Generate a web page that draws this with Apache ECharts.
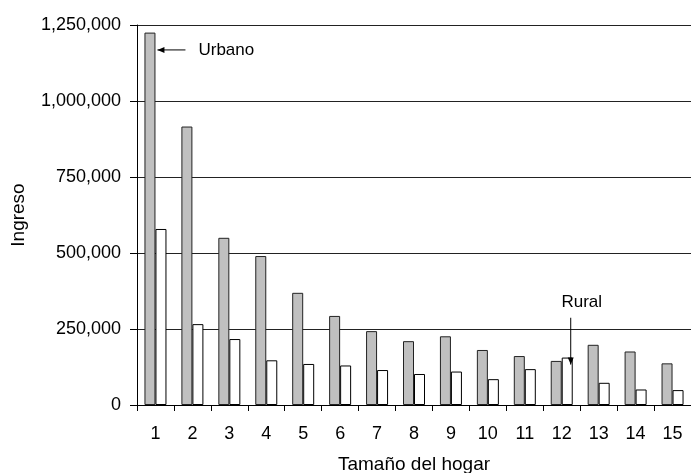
<!DOCTYPE html>
<html>
<head>
<meta charset="utf-8">
<script src="https://cdn.jsdelivr.net/npm/echarts@6/dist/echarts.min.js"></script>
<style>
html,body{margin:0;padding:0;background:#fff;}
#chart{width:691px;height:473px;}
</style>
</head>
<body>
<div id="chart"></div>
<script>
const categories = ['1','2','3','4','5','6','7','8','9','10','11','12','13','14','15'];
const urbano = [1225000, 916000, 550000, 490000, 369000, 293000, 243000, 210000, 226000, 181000, 161000, 145000, 198000, 176000, 137000];
const rural  = [579000, 266000, 217000, 147000, 135000, 130000, 115000, 102000, 110000, 85000, 118000, 156000, 73000, 51000, 49000];
const yTicks = [0, 250000, 500000, 750000, 1000000, 1250000];

const FONT = 'Arial, "Liberation Sans", sans-serif';
const chart = echarts.init(document.getElementById('chart'));

const option = {
  animation: false,
  backgroundColor: '#fff',
  grid: { left: 137, right: 0, top: 25, bottom: 68, containLabel: false, outerBoundsMode: 'none' },
  xAxis: {
    type: 'category',
    data: categories,
    name: 'Tamaño del hogar',
    nameLocation: 'middle',
    nameGap: 50,
    nameTextStyle: { color: '#000', fontSize: 19, fontFamily: FONT },
    axisLine: { lineStyle: { color: '#000', width: 1 } },
    axisTick: { show: true, inside: false, length: 6, alignWithLabel: false, lineStyle: { color: '#000' } },
    axisLabel: { color: '#000', fontSize: 18, fontFamily: FONT, margin: 20 },
    splitLine: { show: false }
  },
  yAxis: {
    type: 'value',
    min: yTicks[0],
    max: yTicks[yTicks.length - 1],
    interval: yTicks[1] - yTicks[0],
    name: 'Ingreso',
    nameLocation: 'middle',
    nameRotate: 90,
    nameGap: 109,
    nameTextStyle: { color: '#000', fontSize: 19, fontFamily: FONT },
    axisLine: { show: true, lineStyle: { color: '#000', width: 1 } },
    axisTick: { show: true, inside: false, length: 7, lineStyle: { color: '#000' } },
    axisLabel: {
      color: '#000', fontSize: 18, fontFamily: FONT, margin: 16,
      formatter: v => v.toLocaleString('en-US')
    },
    splitLine: { show: true, lineStyle: { color: '#222', width: 1 } }
  },
  series: [
    {
      name: 'Urbano', type: 'bar', data: urbano,
      barWidth: 11, barGap: '0%',
      itemStyle: { color: '#C0C0C0', borderColor: '#222', borderWidth: 1 }
    },
    {
      name: 'Rural', type: 'bar', data: rural,
      barWidth: 11, barGap: '0%',
      itemStyle: { color: '#FFFFFF', borderColor: '#000', borderWidth: 1 }
    }
  ]
};
chart.setOption(option);

// Annotations anchored to data coordinates
const p1 = chart.convertToPixel({ gridIndex: 0 }, [0, 1168000]);
const p12top = chart.convertToPixel({ gridIndex: 0 }, [11, 287000]);
const p12tip = chart.convertToPixel({ gridIndex: 0 }, [11, 133000]);
const p12txt = chart.convertToPixel({ gridIndex: 0 }, [11, 346000]);

function arrowHead(x, y, dir) {
  if (dir === 'left') return [[x, y], [x + 7, y - 3], [x + 7, y + 3]];
  return [[x, y], [x - 3, y - 7], [x + 3, y - 7]];
}

chart.setOption({
  graphic: [
    { type: 'line', z: 100, shape: { x1: p1[0] + 2, y1: p1[1], x2: p1[0] + 30, y2: p1[1] }, style: { stroke: '#000', lineWidth: 1 } },
    { type: 'polygon', z: 100, shape: { points: arrowHead(p1[0] + 2, p1[1], 'left') }, style: { fill: '#000' } },
    { type: 'text', z: 100, x: p1[0] + 43, y: p1[1], style: { text: 'Urbano', fill: '#000', font: '17px ' + FONT, textVerticalAlign: 'middle', textAlign: 'left' } },
    { type: 'line', z: 100, shape: { x1: p12top[0] + 9, y1: p12top[1], x2: p12top[0] + 9, y2: p12tip[1] }, style: { stroke: '#000', lineWidth: 1 } },
    { type: 'polygon', z: 100, shape: { points: arrowHead(p12tip[0] + 9, p12tip[1], 'down') }, style: { fill: '#000' } },
    { type: 'text', z: 100, x: p12txt[0] + 20, y: p12txt[1] + 2, style: { text: 'Rural', fill: '#000', font: '17px ' + FONT, textVerticalAlign: 'middle', textAlign: 'center' } }
  ]
});
</script>
</body>
</html>
